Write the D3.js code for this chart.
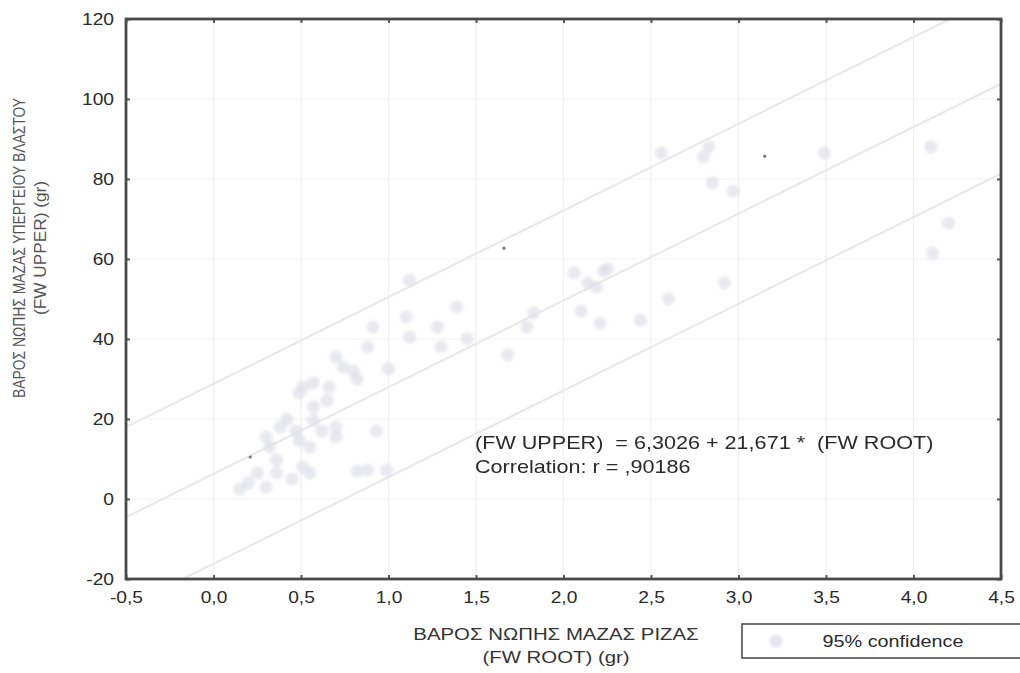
<!DOCTYPE html>
<html>
<head>
<meta charset="utf-8">
<script src="https://cdn.jsdelivr.net/npm/d3@7"></script>
<style>
body { margin: 0; background: #fff; }
svg text { font-family: "Liberation Sans", Arial, sans-serif; white-space: pre; }
</style>
</head>
<body>
<div id="chart"></div>
<script>
// Data (FW ROOT vs FW UPPER)
const fwRoot = [0.15, 0.20, 0.25, 0.30, 0.36, 0.36, 0.45, 0.51, 0.55, 0.32,
  0.30, 0.38, 0.42, 0.47, 0.49, 0.55, 0.57, 0.62, 0.70, 0.70,
  0.49, 0.51, 0.57, 0.65, 0.66, 0.57, 0.70, 0.74, 0.80, 0.82,
  0.88, 0.91, 1.00, 1.10, 1.12, 1.12, 1.28, 1.30, 1.39, 1.45,
  1.68, 1.79, 1.83, 0.93, 0.88, 0.99, 0.82, 2.06, 2.10, 2.14,
  2.21, 2.23, 2.19, 2.25, 2.44, 2.60, 2.56, 2.80, 2.83, 2.85,
  2.97, 2.92, 3.49, 4.10, 4.11, 4.20];
const fwUpper = [2.5, 4, 6.5, 3, 6.5, 9.7, 5, 8, 6.5, 13,
  15.5, 18, 20, 17, 14.7, 13, 19.7, 17, 15.5, 18,
  26.5, 28, 23, 24.7, 28, 29, 35.5, 33, 32, 30,
  38, 43, 32.5, 45.5, 40.5, 54.7, 43, 38, 48, 40,
  36, 43, 46.5, 17, 7.2, 7.2, 7, 56.5, 47, 54,
  44, 57, 53, 57.5, 44.7, 50, 86.5, 85.5, 88, 79,
  77, 54, 86.5, 88, 61.5, 69];
// the few markers that came out dark in the scan
const darkRoot = [0.21, 1.66, 3.15];
const darkUpper = [10.5, 62.7, 85.7];

const xTicks = [-0.5, 0, 0.5, 1, 1.5, 2, 2.5, 3, 3.5, 4, 4.5];
const yTicks = [-20, 0, 20, 40, 60, 80, 100, 120];

const intercept = 6.3026;
const slope = 21.671;
const band = 22.5; // half width of the 95% band

const margin = { top: 19, right: 19, bottom: 94, left: 126 };
const width = 1020 - margin.left - margin.right;
const height = 673 - margin.top - margin.bottom;
const stretch = "scale(1.2,1)"; // the scan is wider than tall

const svg = d3.select("#chart")
  .append("svg")
  .attr("width", 1020)
  .attr("height", 673);

const defs = svg.append("defs");
defs.append("filter").attr("id", "soft")
  .append("feGaussianBlur").attr("stdDeviation", 1.8);
defs.append("clipPath").attr("id", "plotclip")
  .append("rect").attr("width", width).attr("height", height);

const g = svg.append("g")
  .attr("transform", `translate(${margin.left},${margin.top})`);

const x = d3.scaleLinear().domain([-0.5, 4.5]).range([0, width]);
const y = d3.scaleLinear().domain([-20, 120]).range([height, 0]);

const fmtX = d => d3.format(".1f")(d).replace(".", ",").replace("−", "-");
const fmtY = d => String(d);

// faint grid
g.append("g").selectAll("line")
  .data(xTicks.slice(1, -1)).enter().append("line")
  .attr("x1", d => x(d)).attr("x2", d => x(d))
  .attr("y1", 0).attr("y2", height)
  .attr("stroke", "#efefef").attr("stroke-width", 1.2);
g.append("g").selectAll("line")
  .data(yTicks.slice(1, -1)).enter().append("line")
  .attr("x1", 0).attr("x2", width)
  .attr("y1", d => y(d)).attr("y2", d => y(d))
  .attr("stroke", "#f4f4f4").attr("stroke-width", 1.2);

// regression line and 95% band
const lineGen = d3.line().x(d => x(d[0])).y(d => y(d[1]));
const ends = [-0.5, 4.5];
[0, band, -band].forEach(off => {
  g.append("path")
    .datum(ends.map(v => [v, intercept + slope * v + off]))
    .attr("d", lineGen)
    .attr("clip-path", "url(#plotclip)")
    .attr("fill", "none")
    .attr("stroke", "#ebe8e8")
    .attr("stroke-width", 2.2);
});

// points
const pts = fwRoot.map((v, i) => ({ root: v, upper: fwUpper[i] }));
g.append("g").attr("filter", "url(#soft)")
  .selectAll("circle").data(pts).enter().append("circle")
  .attr("cx", d => x(d.root))
  .attr("cy", d => y(d.upper))
  .attr("r", 6.5)
  .attr("fill", "#e0e0ea")
  .attr("opacity", 0.75);

g.append("g").selectAll("circle").data(darkRoot).enter().append("circle")
  .attr("cx", d => x(d))
  .attr("cy", (d, i) => y(darkUpper[i]))
  .attr("r", 1.6)
  .attr("fill", "#777");

// axes
const styleAxis = sel => {
  sel.select(".domain").remove();
  sel.selectAll(".tick line").attr("stroke", "#555").attr("stroke-width", 2);
  sel.selectAll("text")
    .attr("fill", "#2a2a2a")
    .attr("transform", stretch)
    .style("font-size", "16px");
};

g.append("g")
  .attr("transform", `translate(0,${height})`)
  .call(d3.axisBottom(x).tickValues(xTicks).tickFormat(fmtX).tickSize(-4).tickPadding(13))
  .call(styleAxis);
g.append("g")
  .call(d3.axisLeft(y).tickValues(yTicks).tickFormat(fmtY).tickSize(-4).tickPadding(10))
  .call(styleAxis);
g.append("g")
  .call(d3.axisTop(x).tickValues(xTicks).tickFormat("").tickSize(-4))
  .call(styleAxis);
g.append("g")
  .attr("transform", `translate(${width},0)`)
  .call(d3.axisRight(y).tickValues(yTicks).tickFormat("").tickSize(-4))
  .call(styleAxis);

// frame
g.append("rect")
  .attr("width", width).attr("height", height)
  .attr("fill", "none").attr("stroke", "#4a4a4a").attr("stroke-width", 2.8);

// equation
const eq = svg.append("g")
  .attr("transform", `translate(475,449) ${stretch}`)
  .append("text")
  .attr("fill", "#2a2a2a").style("font-size", "18px");
eq.append("tspan").attr("x", 0).text("(FW UPPER)  = 6,3026 + 21,671 *  (FW ROOT)");
eq.append("tspan").attr("x", 0).attr("dy", 24).text("Correlation: r = ,90186");

// axis titles
const xt = svg.append("g")
  .attr("transform", `translate(556,640) ${stretch}`)
  .append("text")
  .attr("text-anchor", "middle")
  .attr("fill", "#333").style("font-size", "17px");
xt.append("tspan").attr("x", 0).attr("y", 0).text("ΒΑΡΟΣ ΝΩΠΗΣ ΜΑΖΑΣ ΡΙΖΑΣ");
xt.append("tspan").attr("x", 0).attr("dy", 23).text("(FW ROOT) (gr)");

const yt = svg.append("g")
  .attr("transform", "translate(0,248) scale(1.2,1) rotate(-90)");
yt.append("text")
  .attr("x", 0).attr("y", 21)
  .attr("text-anchor", "middle")
  .attr("textLength", 300).attr("lengthAdjust", "spacingAndGlyphs")
  .attr("fill", "#555").style("font-size", "14px")
  .text("ΒΑΡΟΣ ΝΩΠΗΣ ΜΑΖΑΣ ΥΠΕΡΓΕΙΟΥ ΒΛΑΣΤΟΥ");
yt.append("text")
  .attr("x", 0).attr("y", 38)
  .attr("text-anchor", "middle")
  .attr("textLength", 134).attr("lengthAdjust", "spacingAndGlyphs")
  .attr("fill", "#555").style("font-size", "14px")
  .text("(FW UPPER) (gr)");

// legend
const lg = svg.append("g").attr("transform", "translate(742,624)");
lg.append("rect")
  .attr("width", 290).attr("height", 34)
  .attr("fill", "#fff").attr("stroke", "#444").attr("stroke-width", 1.5);
lg.append("circle")
  .attr("cx", 34).attr("cy", 17).attr("r", 6.5)
  .attr("fill", "#e6e6ee").attr("filter", "url(#soft)");
lg.append("g")
  .attr("transform", `translate(151,23) ${stretch}`)
  .append("text")
  .attr("text-anchor", "middle")
  .attr("fill", "#2a2a2a").style("font-size", "16.5px")
  .text("95% confidence");
</script>
</body>
</html>
